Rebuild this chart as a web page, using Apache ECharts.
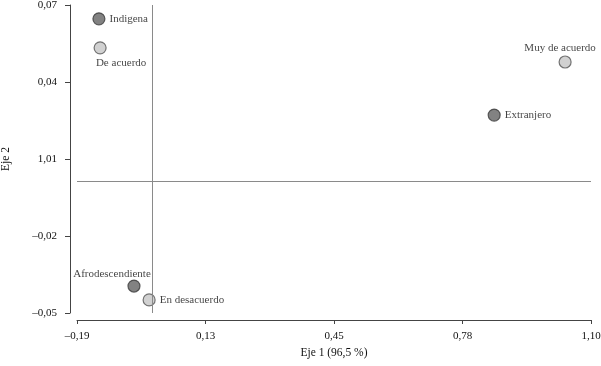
<!DOCTYPE html>
<html>
<head>
<meta charset="utf-8">
<script src="https://cdn.jsdelivr.net/npm/echarts@6/dist/echarts.min.js"></script>
<style>
  html, body { margin: 0; padding: 0; background: #fff; }
  #chart { width: 601px; height: 366px; }
</style>
</head>
<body>
<div id="chart"></div>
<script>
// categorías y coordenadas (Eje 1, Eje 2)
const nombres = ['Indigena', 'De acuerdo', 'Muy de acuerdo', 'Extranjero', 'Afrodescendiente', 'En desacuerdo']
const eje1 = [-0.135, -0.132, 1.035, 0.857, -0.047, -0.009]
const eje2 = [0.0632, 0.0519, 0.0464, 0.0257, -0.0409, -0.0463]
const grupo = ['perfil', 'opinion', 'opinion', 'perfil', 'perfil', 'opinion']

// ticks (las etiquetas del original están redondeadas)
const xTickValues = [-0.19, 0.1325, 0.455, 0.7775, 1.10]
const xTickLabels = ['\u20130,19', '0,13', '0,45', '0,78', '1,10']
const yTickValues = [-0.0514, -0.0214, 0.0086, 0.0386, 0.0686]
const yTickLabels = ['\u20130,05', '\u20130,02', '1,01', '0,04', '0,07']

const colores = {
  perfil: { color: '#636363', borderColor: '#3a3a3a' },
  opinion: { color: '#c6c6c6', borderColor: '#555555' }
}
// posición de cada etiqueta
const etiquetas = {
  'Indigena': { position: 'right', distance: 4 },
  'De acuerdo': { position: 'bottom', distance: 3, offset: [21, 0] },
  'Muy de acuerdo': { position: 'top', distance: 2, offset: [-5, 0] },
  'Extranjero': { position: 'right', distance: 4 },
  'Afrodescendiente': { position: 'top', distance: 0, offset: [-22, 0] },
  'En desacuerdo': { position: 'right', distance: 4 }
}

const fuente = 'Liberation Serif'
const colorTexto = '#111'

function pickLabel(values, labels, v) {
  let best = 0
  values.forEach((t, i) => {
    if (Math.abs(t - v) < Math.abs(values[best] - v)) best = i
  })
  return labels[best]
}

const data = nombres.map((n, i) => ({
  name: n,
  value: [eje1[i], eje2[i]],
  itemStyle: { ...colores[grupo[i]], borderWidth: 1.2 },
  label: etiquetas[n]
}))

const option = {
  animation: false,
  textStyle: { fontFamily: fuente },
  grid: {
    left: 77,
    right: 10,
    top: 5,
    bottom: 53,
    containLabel: false,
    outerBoundsMode: 'none'
  },
  xAxis: {
    type: 'value',
    min: xTickValues[0],
    max: xTickValues[xTickValues.length - 1],
    offset: 7,
    name: 'Eje 1 (96,5 %)',
    nameLocation: 'middle',
    nameGap: 23,
    nameTextStyle: { color: colorTexto, fontSize: 11.5, fontFamily: fuente },
    axisLine: { show: true, onZero: false, lineStyle: { color: '#444', width: 1 } },
    axisTick: { show: true, length: 4, customValues: xTickValues, lineStyle: { color: '#444' } },
    axisLabel: {
      customValues: xTickValues,
      margin: 11,
      color: colorTexto,
      fontSize: 11,
      fontFamily: fuente,
      formatter: v => pickLabel(xTickValues, xTickLabels, v)
    },
    splitLine: { show: false }
  },
  yAxis: {
    type: 'value',
    min: yTickValues[0],
    max: yTickValues[yTickValues.length - 1],
    offset: 7,
    name: 'Eje 2',
    nameLocation: 'middle',
    nameGap: 58,
    nameRotate: 90,
    nameTextStyle: { color: colorTexto, fontSize: 11.5, fontFamily: fuente },
    axisLine: { show: true, onZero: false, lineStyle: { color: '#444', width: 1 } },
    axisTick: { show: true, length: 5, customValues: yTickValues, lineStyle: { color: '#444' } },
    axisLabel: {
      customValues: yTickValues,
      margin: 13,
      color: colorTexto,
      fontSize: 11,
      fontFamily: fuente,
      formatter: v => pickLabel(yTickValues, yTickLabels, v)
    },
    splitLine: { show: false }
  },
  series: [
    {
      type: 'scatter',
      symbolSize: 12,
      data,
      label: {
        show: true,
        formatter: '{b}',
        color: colorTexto,
        fontSize: 11,
        fontFamily: fuente
      },
      emphasis: { disabled: true },
      markLine: {
        silent: true,
        symbol: 'none',
        label: { show: false },
        lineStyle: { color: '#8a8a8a', type: 'solid', width: 1 },
        data: [{ xAxis: 0 }, { yAxis: 0 }]
      },
      z: 3
    }
  ]
}

const chart = echarts.init(document.getElementById('chart'), null, { renderer: 'canvas' })
chart.setOption(option)
</script>
</body>
</html>
